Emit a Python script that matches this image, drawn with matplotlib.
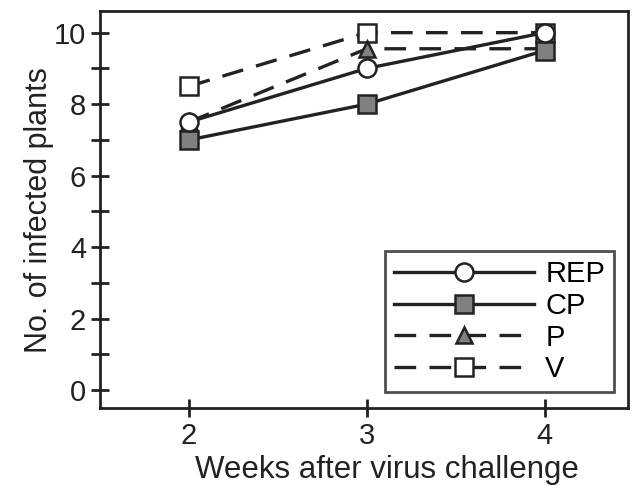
import matplotlib.pyplot as plt
from matplotlib.ticker import MultipleLocator

plt.rcParams['font.family'] = ['Liberation Sans', 'DejaVu Sans']

weeks = [2, 3, 4]
rep = [7.5, 9.0, 10.0]
cp = [7.0, 8.0, 9.5]
p = [7.5, 9.55, 9.55]
v = [8.5, 10.0, 10.0]

fig = plt.figure(figsize=(6.37, 4.88), dpi=100)
ax = fig.add_axes([0.157, 0.164, 0.829, 0.813])

lw = 2.4
dash = (0, (6.5, 4))
ax.plot(weeks, v, color='#222222', lw=lw, ls=dash, marker='s', ms=13,
        mfc='white', mec='#222222', mew=1.8, label='V', zorder=2)
ax.plot(weeks, p, color='#222222', lw=lw, ls=dash, marker='^', ms=11,
        mfc='#808080', mec='#222222', mew=1.8, label='P', zorder=3)
ax.plot(weeks, cp, color='#222222', lw=lw, ls='-', marker='s', ms=13,
        mfc='#808080', mec='#222222', mew=1.8, label='CP', zorder=4)
ax.plot(weeks, rep, color='#222222', lw=lw, ls='-', marker='o', ms=13,
        mfc='white', mec='#222222', mew=1.8, label='REP', zorder=5)

ax.set_xlim(1.5, 4.47)
ax.set_ylim(-0.5, 10.6)
ax.set_xticks([2, 3, 4])
ax.yaxis.set_major_locator(MultipleLocator(2))
ax.yaxis.set_minor_locator(MultipleLocator(1))
ax.tick_params(axis='both', which='both', direction='inout', width=2, colors='#222222',
               labelsize=21, labelcolor='#222222', length=13)
for s in ax.spines.values():
    s.set_linewidth(2)
    s.set_color('#222222')

ax.set_xlabel('Weeks after virus challenge', fontsize=22.5, color='#222222', labelpad=4)
ax.xaxis.label.set_x(0.544)
ax.set_ylabel('No. of infected plants', fontsize=22, color='#222222', labelpad=0)

h, l = ax.get_legend_handles_labels()
order = [3, 2, 1, 0]
leg = ax.legend([h[i] for i in order], [l[i] for i in order], loc='lower right',
                fontsize=21, handlelength=4.8, handletextpad=0.4, frameon=True,
                fancybox=False, edgecolor='#222222', borderpad=0.3, labelspacing=0.13,
                borderaxespad=0, bbox_to_anchor=(0.973, 0.04))
leg.get_frame().set_linewidth(2)

fig.savefig('out.png', dpi=100)
